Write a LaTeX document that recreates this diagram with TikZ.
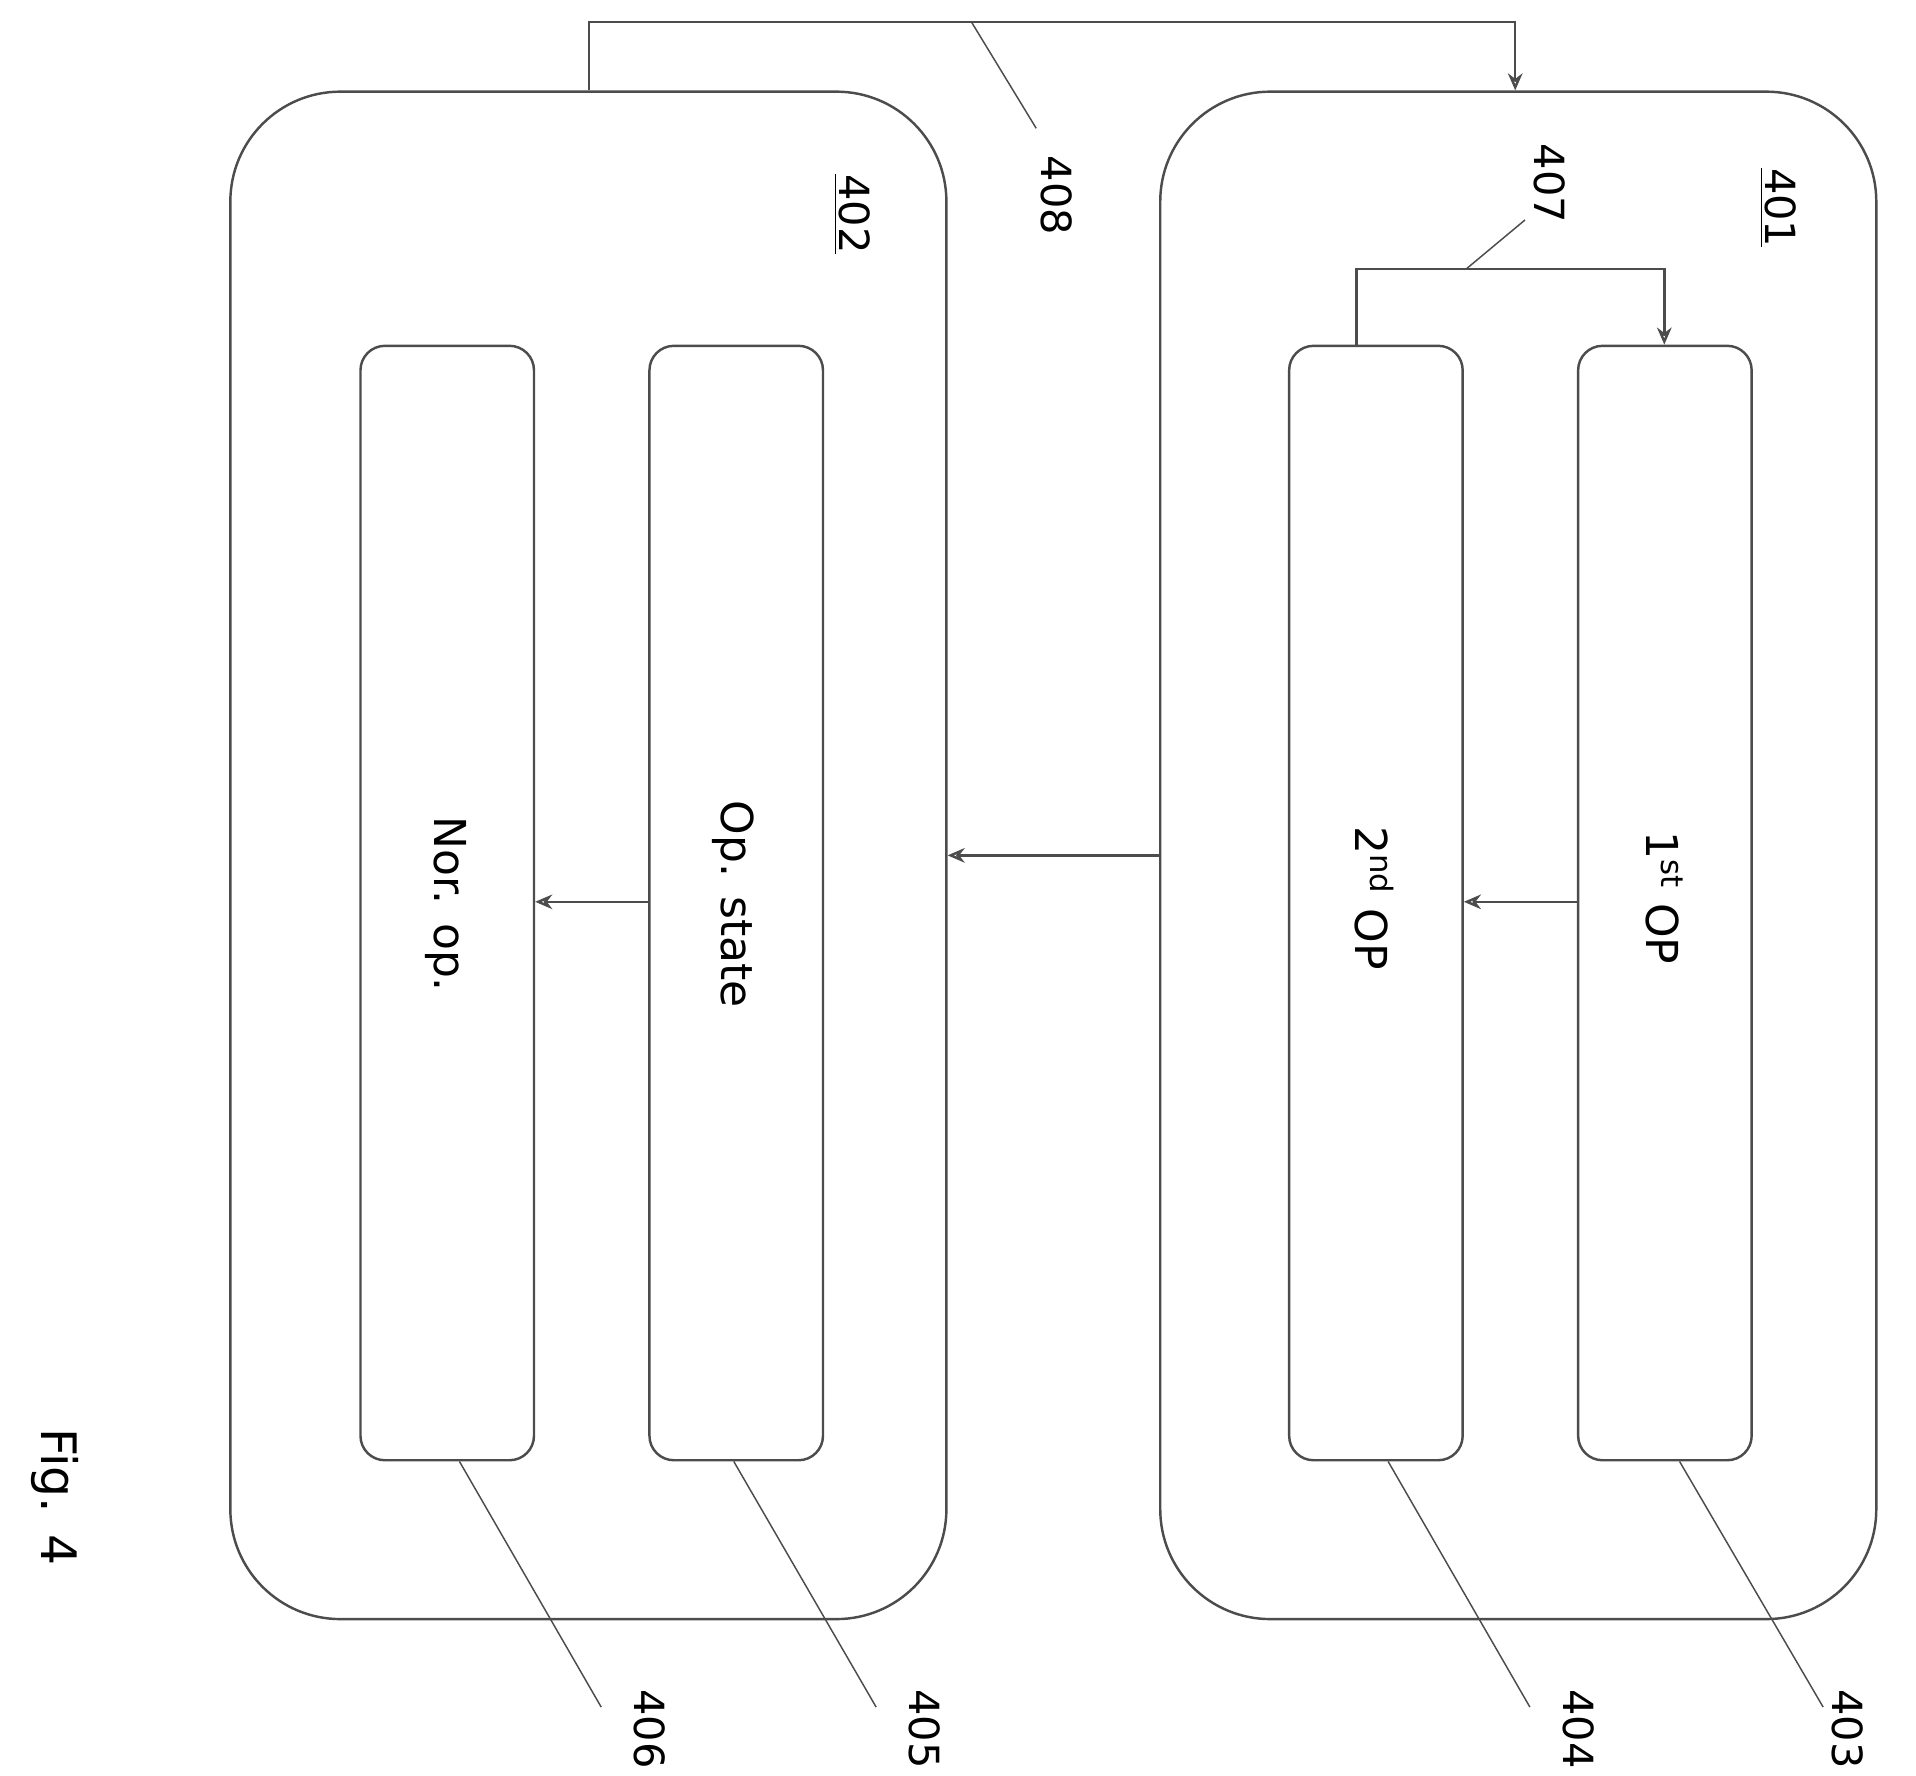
\documentclass[tikz,border=0pt]{standalone}
\usepackage{fontspec}
\setmainfont{DejaVu Sans}
\usetikzlibrary{arrows.meta}
\tikzset{every picture/.style={line width=1pt}}
\tikzset{
  outerbox/.style={draw=black!70, rounded corners=45pt, minimum width=293pt, minimum height=625pt, inner sep=0pt},
  innerbox/.style={draw=black!70, rounded corners=10pt, minimum width=71pt, minimum height=456pt, inner sep=0pt},
  flow/.style={draw=black!70, -{Stealth[length=7pt,width=6pt,open]}},
  leader/.style={draw=black!70, line width=0.6pt},
  boxtext/.style={rotate=-90, font=\fontsize{18}{22}\selectfont},
  refnum/.style={rotate=-90, font=\fontsize{17}{20}\selectfont, inner sep=1pt}
}
\begin{document}
\begin{tikzpicture}[x=0.5pt,y=0.5pt,yscale=-1,xscale=1]
        \useasboundingbox (0,0) rectangle (1568,1453);

        % outer boxes
        \node [outerbox] (b402) at (481.5,700) {};
        \node [outerbox] (b401) at (1242.5,700) {};

        % inner boxes
        \node [innerbox] (b406) at (366,739) {};
        \node [innerbox] (b405) at (602.5,739) {};
        \node [innerbox] (b404) at (1126,739) {};
        \node [innerbox] (b403) at (1362.5,739) {};

        % box texts
        \node [boxtext] at (1362,735) {1\textsuperscript{st} OP};
        \node [boxtext] at (1125,735) {2\textsuperscript{nd} OP};
        \node [boxtext] at (600,740) {Op. state};
        \node [boxtext] at (365,740) {Nor. op.};

        % underlined group numbers
        \node [refnum] (n401) at (1455,170) {\underline{401}};
        \node [refnum] (n402) at (697,175) {\underline{402}};

        % connectors
        \coordinate (c408a) at (482,18);
        \coordinate (c408b) at (1240,18);
        \draw [flow] (b402.north -| c408a) -- (c408a) -- (c408b) -- (b401.north -| c408b);
        \coordinate (c407a) at (1110,220);
        \coordinate (c407b) at (1362,220);
        \draw [flow] (b404.north -| c407a) -- (c407a) -- (c407b) -- (b403.north -| c407b);
        \draw [flow] (b401.west |- 0,700) -- (b402.east |- 0,700);
        \draw [flow] (b403.west |- 0,738) -- (b404.east |- 0,738);
        \draw [flow] (b405.west |- 0,738) -- (b406.east |- 0,738);

        % reference numbers with leaders
        \node [refnum] (n408) at (865,160) {408};
        \draw [leader] (795,18) -- (848,105);
        \node [refnum] (n407) at (1268,150) {407};
        \draw [leader] (1200,220) -- (1248,180);
        \node [refnum] (n403) at (1512,1415) {403};
        \draw [leader] (b403.south) ++(12,0) -- (1492,1397);
        \node [refnum] (n404) at (1292,1415) {404};
        \draw [leader] (b404.south) ++(10,0) -- (1252,1397);
        \node [refnum] (n405) at (757,1415) {405};
        \draw [leader] (b405.south) ++(-2,0) -- (717,1397);
        \node [refnum] (n406) at (532,1415) {406};
        \draw [leader] (b406.south) ++(10,0) -- (492,1397);

        % figure caption
        \node [rotate=-90, font=\fontsize{20}{24}\selectfont] (fig) at (45,1225) {Fig. 4};

\end{tikzpicture}
\end{document}
